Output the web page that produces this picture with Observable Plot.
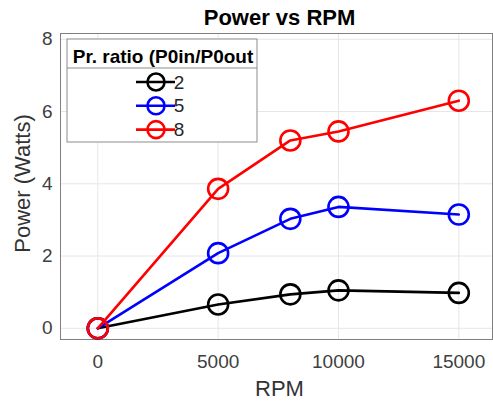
<!DOCTYPE html>
<html><head><meta charset="utf-8">
<script src="https://cdn.jsdelivr.net/npm/d3@7"></script>
<script src="https://cdn.jsdelivr.net/npm/@observablehq/plot@0.6"></script>
<style>body{margin:0;background:#fff} svg{display:block}</style>
</head><body><div id="chart"></div>
<script>
const rpm = [0, 5000, 8000, 10000, 15000];
const ratios = ["2", "5", "8"];
const colors = ["#000000", "#0000ff", "#ff0000"];
const power2 = [0, 0.66, 0.94, 1.05, 0.98];
const power5 = [0, 2.08, 3.03, 3.36, 3.15];
const power8 = [0, 3.86, 5.2, 5.45, 6.3];
const xTicks = [0, 5000, 10000, 15000];
const yTicks = [0, 2, 4, 6, 8];
const titleText = "Power vs RPM";
const xLabel = "RPM";
const yLabel = "Power (Watts)";
const legendTitle = "Pr. ratio (P0in/P0out";

const seriesValues = [power2, power5, power8];
const series = ratios.map((r, k) => seriesValues[k].map((v, i) => ({rpm: rpm[i], power: v, ratio: r})));

const font = "'Liberation Sans', Arial, Helvetica, sans-serif";

const seriesMarks = series.flatMap(rows => [
  Plot.line(rows, {x: "rpm", y: "power", stroke: "ratio", strokeWidth: 2.6}),
  Plot.dot(rows, {x: "rpm", y: "power", stroke: "ratio", r: 10, strokeWidth: 2.6, fill: "none"})
]);

const chart = Plot.plot({
  width: 493, height: 402,
  marginLeft: 60, marginRight: 1, marginTop: 33, marginBottom: 63,
  style: {fontFamily: font, background: "#fff", color: "#333"},
  x: {domain: [-1550, 16400]},
  y: {domain: [-0.31, 8.16]},
  color: {domain: ratios, range: colors},
  marks: [
    Plot.gridX(xTicks, {stroke: "#e6e6e6", strokeOpacity: 1}),
    Plot.gridY(yTicks, {stroke: "#e6e6e6", strokeOpacity: 1}),
    Plot.axisX(xTicks, {tickSize: 0, tickPadding: 15, fontSize: 19, tickFormat: d => String(d), label: null, fill: "#404040"}),
    Plot.axisY(yTicks, {tickSize: 0, tickPadding: 8, fontSize: 19, tickFormat: d => String(d), label: null, fill: "#404040"}),
    Plot.frame({stroke: "#808080"}),
    ...seriesMarks,
    Plot.text([titleText], {frameAnchor: "top", lineAnchor: "middle", dy: -16, dx: 3, fontSize: 22, fontWeight: "bold", fill: "#000"}),
    Plot.text([xLabel], {frameAnchor: "bottom", lineAnchor: "middle", dy: 49, dx: 3, fontSize: 22, fill: "#333"}),
    Plot.text([yLabel], {frameAnchor: "left", textAnchor: "middle", lineAnchor: "middle", rotate: -90, dx: -38, dy: -3, fontSize: 22, fill: "#333"})
  ]
});

document.getElementById("chart").appendChild(chart);

// Legend
const svg = d3.select(chart);
const lg = svg.append("g").attr("font-family", font);
lg.append("rect").attr("x", 67).attr("y", 39).attr("width", 190).attr("height", 103)
  .attr("fill", "#fff").attr("stroke", "#8c8c8c");
lg.append("line").attr("x1", 67).attr("x2", 257).attr("y1", 68).attr("y2", 68).attr("stroke", "#8c8c8c");
lg.append("text").attr("x", 163).attr("y", 63).attr("text-anchor", "middle")
  .attr("font-size", 19).attr("font-weight", "bold").attr("fill", "#000").text(legendTitle);
ratios.forEach((r, i) => {
  const y = 82 + 23.8 * i;
  const g = lg.append("g");
  g.append("line").attr("x1", 136).attr("x2", 175).attr("y1", y).attr("y2", y)
    .attr("stroke", colors[i]).attr("stroke-width", 2.6);
  g.append("circle").attr("cx", 156).attr("cy", y).attr("r", 8.5)
    .attr("fill", "none").attr("stroke", colors[i]).attr("stroke-width", 2.6);
  g.append("text").attr("x", 179).attr("y", y).attr("dy", "0.35em")
    .attr("font-size", 19).attr("fill", "#262626").text(r);
});
</script>
</body></html>
